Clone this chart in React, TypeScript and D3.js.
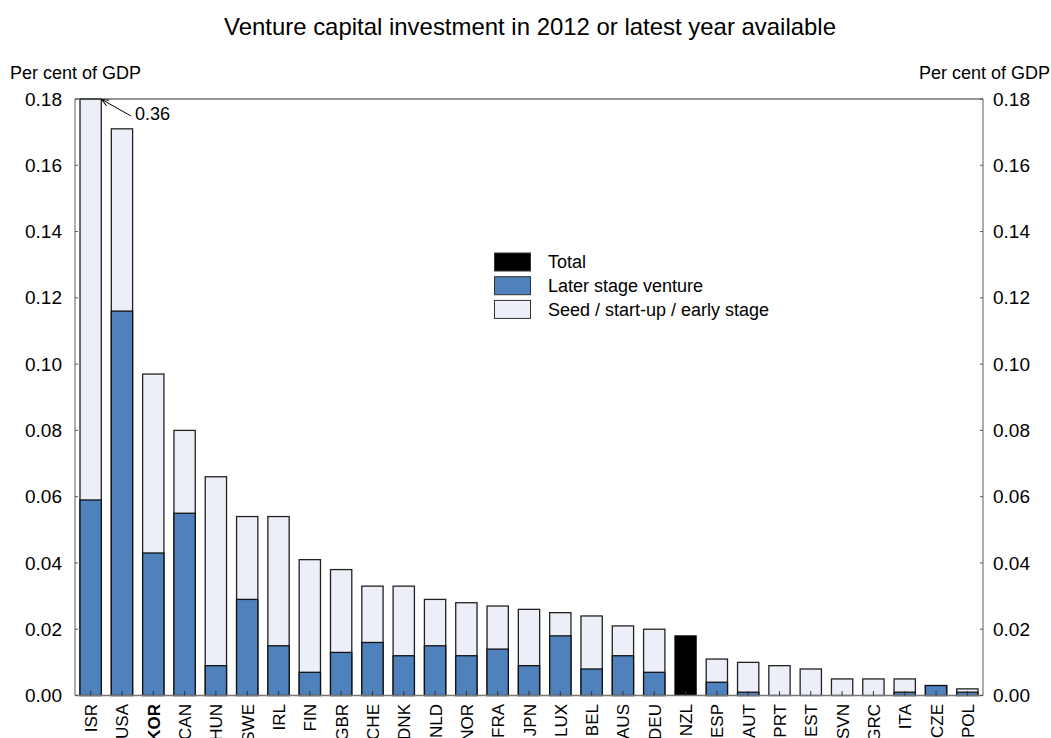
import React from "react";
import * as d3 from "d3";

const countries = ["ISR","USA","KOR","CAN","HUN","SWE","IRL","FIN","GBR","CHE","DNK","NLD","NOR","FRA","JPN","LUX","BEL","AUS","DEU","NZL","ESP","AUT","PRT","EST","SVN","GRC","ITA","CZE","POL"];
const totalValues = [0.36,0.171,0.097,0.080,0.066,0.054,0.054,0.041,0.038,0.033,0.033,0.029,0.028,0.027,0.026,0.025,0.024,0.021,0.020,0.018,0.011,0.010,0.009,0.008,0.005,0.005,0.005,0.003,0.002];
const laterValues: (number | null)[] = [0.059,0.116,0.043,0.055,0.009,0.029,0.015,0.007,0.013,0.016,0.012,0.015,0.012,0.014,0.009,0.018,0.008,0.012,0.007,null,0.004,0.001,0,0,0,0,0.001,0.003,0.001];
const yTicks = [0, 0.02, 0.04, 0.06, 0.08, 0.1, 0.12, 0.14, 0.16, 0.18];
const boldCountry = "KOR";
const totalOnly = "NZL";
const legendItems = [
  { label: "Total", color: "#000000" },
  { label: "Later stage venture", color: "#4F81BD" },
  { label: "Seed / start-up / early stage", color: "#ECEFF7" },
];

const W = 1051, H = 738;
const L = 75, R = 983, T = 99, B = 695.5;
const FONT = "Arial, 'Liberation Sans', sans-serif";
const BLUE = "#4F81BD";
const LIGHT = "#ECEFF7";

export default function App() {
  const x = d3.scaleBand<string>().domain(countries).range([L, R]).paddingInner(0.32).paddingOuter(0.16);
  const y = d3.scaleLinear().domain([0, 0.18]).range([B, T]);
  const ymax = 0.18;
  const fmt = d3.format(".2f");

  return (
    <svg width={W} height={H} style={{ position: "absolute", left: 0, top: 0, background: "#fff" }} fontFamily={FONT}>
      <text x={530} y={35} textAnchor="middle" fontSize={24} textLength={612} lengthAdjust="spacingAndGlyphs" fill="#000">Venture capital investment in 2012 or latest year available</text>
      <text x={10} y={79} fontSize={18} fill="#000">Per cent of GDP</text>
      <text x={1050} y={79} fontSize={18} fill="#000" textAnchor="end">Per cent of GDP</text>

      {countries.map((c, i) => {
        const bx = x(c)!;
        const bw = x.bandwidth();
        const tot = Math.min(totalValues[i], ymax);
        const lat = laterValues[i];
        if (c === totalOnly || lat === null) {
          return <rect key={c} x={bx} y={y(tot)} width={bw} height={y(0) - y(tot)} fill="#000" stroke="#000" strokeWidth={1} />;
        }
        return (
          <g key={c}>
            <rect x={bx} y={y(tot)} width={bw} height={y(0) - y(tot)} fill={LIGHT} stroke="#222" strokeWidth={1.3} />
            {lat > 0 && <rect x={bx} y={y(lat)} width={bw} height={y(0) - y(lat)} fill={BLUE} stroke="#111" strokeWidth={1.3} />}
          </g>
        );
      })}

      {/* frame */}
      <line x1={L} x2={R} y1={T} y2={T} stroke="#333" strokeWidth={1} />
      <line x1={L} x2={L} y1={T} y2={B} stroke="#777" strokeWidth={1.2} />
      <line x1={R} x2={R} y1={T} y2={B} stroke="#777" strokeWidth={1.2} />
      <line x1={L} x2={R} y1={B} y2={B} stroke="#777" strokeWidth={1.5} />

      {yTicks.map((t) => (
        <g key={t}>
          <line x1={L} x2={L + 3} y1={y(t)} y2={y(t)} stroke="#555" />
          <line x1={R - 3} x2={R} y1={y(t)} y2={y(t)} stroke="#555" />
          <text x={62} y={y(t)} dy="0.35em" textAnchor="end" fontSize={19} fill="#000">{fmt(t)}</text>
          <text x={993} y={y(t)} dy="0.35em" textAnchor="start" fontSize={19} fill="#000">{fmt(t)}</text>
        </g>
      ))}

      {countries.map((c) => {
        const cx = x(c)! + x.bandwidth() / 2;
        return (
          <g key={"t" + c}>
            <line x1={cx} x2={cx} y1={B} y2={B - 4.5} stroke="#333" strokeWidth={1} />
            <text
              transform={`translate(${cx + 6.5},704) rotate(-90)`}
              textAnchor="end"
              fontSize={17}
              fontWeight={c === boldCountry ? "bold" : "normal"}
              fill="#000"
            >{c}</text>
          </g>
        );
      })}

      {/* annotation for clipped ISR */}
      <defs>
        <marker id="arr" viewBox="0 0 10 10" refX="9" refY="5" markerWidth="8" markerHeight="8" orient="auto">
          <path d="M0,1 L9,5 L0,9" fill="none" stroke="#000" strokeWidth={1.2} />
        </marker>
      </defs>
      <line x1={131} y1={116} x2={x("ISR")! + x.bandwidth() + 0.5} y2={y(ymax) + 0.5} stroke="#000" strokeWidth={1} markerEnd="url(#arr)" />
      <text x={135} y={120} fontSize={18} fill="#000">{totalValues[0].toFixed(2)}</text>

      {/* legend */}
      {legendItems.map((it, i) => (
        <g key={it.label}>
          <rect x={494.5} y={253 + i * 23.7} width={36} height={18} fill={it.color} stroke="#333" strokeWidth={1} />
          <text x={548} y={262 + i * 23.7} dy="0.35em" fontSize={18} fill="#000">{it.label}</text>
        </g>
      ))}
    </svg>
  );
}
